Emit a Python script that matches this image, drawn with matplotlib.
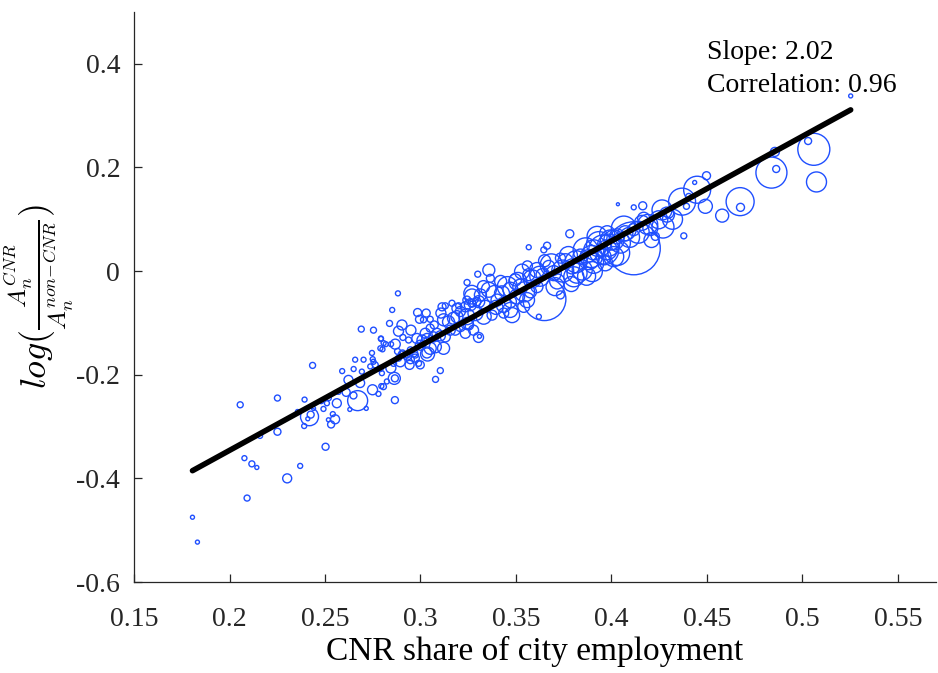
import numpy as np
import matplotlib.pyplot as plt

# CNR share of city employment (x), log productivity ratio (y), city size (marker diameter proxy)
cnr_share = [
    0.1806, 0.1832, 0.2056, 0.2078, 0.2117, 0.2143, 0.2092, 0.2160, 0.2251, 0.2251,
    0.2302, 0.2370, 0.2435, 0.2393, 0.2356, 0.2419, 0.2425, 0.2410, 0.2391, 0.2503,
    0.2492, 0.2480, 0.2510, 0.2520, 0.2553, 0.2532, 0.2518, 0.2541, 0.2562, 0.2671,
    0.2611, 0.2649, 0.2749, 0.2866, 0.2866, 0.2780, 0.2795, 0.2630, 0.2716, 0.2590,
    0.2650, 0.2693, 0.2702, 0.2658, 0.2623, 0.2684, 0.2571, 0.2737, 0.2754, 0.2746,
    0.2798, 0.2824, 0.2790, 0.2807, 0.2793, 0.2859, 0.2885, 0.2906, 0.2947, 0.2973,
    0.2990, 0.2845, 0.2894, 0.2943, 0.3034, 0.3013, 0.3034, 0.2440,
    # middle-left cluster
    0.2882, 0.2852, 0.2838, 0.2690, 0.2754, 0.2793, 0.2818, 0.2846, 0.2801, 0.2750,
    0.2763, 0.2789, 0.2885, 0.2903, 0.2950, 0.2908, 0.2938, 0.2868, 0.2880, 0.2900,
    0.2930, 0.2863, 0.2806, 0.2985, 0.3030, 0.2995, 0.3016, 0.3051, 0.3072, 0.3051,
    0.3113, 0.3130, 0.3107, 0.3165, 0.3200, 0.3244, 0.3300, 0.3269, 0.3243, 0.3269,
    0.3296, 0.3121, 0.3147, 0.3173, 0.3086, 0.3069, 0.3104, 0.3130, 0.3156, 0.3034,
    0.3008, 0.2981, 0.3025, 0.2999, 0.3078, 0.3121, 0.3051, 0.2964, 0.2999, 0.2947,
    0.2932, 0.2973, 0.3037, 0.3104, 0.3079, 0.3182, 0.3209, 0.3235, 0.3252, 0.3278,
    0.3304, 0.3243, 0.3191, 0.3209, 0.3235, 0.3191,
    # middle cluster
    0.4034, 0.3782, 0.3567, 0.3646, 0.3663, 0.3358, 0.3366, 0.3309, 0.3620, 0.3649,
    0.3733, 0.3358, 0.3314, 0.3270, 0.3261, 0.3305, 0.3340, 0.3288, 0.3331, 0.3375,
    0.3401, 0.3427, 0.3471, 0.3436, 0.3471, 0.3506, 0.3523, 0.3497, 0.3532, 0.3567,
    0.3610, 0.3637, 0.3672, 0.3698, 0.3716, 0.3610, 0.3576, 0.3558, 0.3541, 0.3480,
    0.3436, 0.3759, 0.3733, 0.3794, 0.3803, 0.3838, 0.3882, 0.3847, 0.3908, 0.3960,
    0.3925, 0.3978, 0.4013, 0.4030, 0.3900, 0.3244, 0.3820, 0.3907,
    0.3390, 0.3455, 0.3510, 0.3545, 0.3585, 0.3625, 0.3685, 0.3705, 0.3745, 0.3775,
    0.3815, 0.3865, 0.3895, 0.3935, 0.3985, 0.4065, 0.4095, 0.4140, 0.4190, 0.4210,
    0.4270, 0.4320, 0.3470, 0.3395, 0.3330, 0.3420, 0.3560, 0.3650, 0.3790, 0.3870,
    # upper-right cluster
    0.4117, 0.4117, 0.4164, 0.4265, 0.4300, 0.4370, 0.4449, 0.4498, 0.4436, 0.4405,
    0.4393, 0.4492, 0.4580, 0.4674, 0.4676, 0.4379, 0.4230, 0.4204, 0.4160, 0.4169,
    0.4248, 0.4291, 0.4117, 0.4073, 0.4029, 0.3994, 0.3977, 0.4012, 0.3959, 0.3968,
    0.4047,
    0.5253, 0.4856, 0.4838, 0.4863, 0.5060, 0.5030, 0.5074,
]
log_ratio = [
    -0.475, -0.523, -0.258, -0.361, -0.372, -0.379, -0.438, -0.318, -0.245, -0.310,
    -0.400, -0.376, -0.182, -0.248, -0.271, -0.281, -0.277, -0.285, -0.299, -0.339,
    -0.266, -0.251, -0.255, -0.245, -0.286, -0.296, -0.287, -0.276, -0.255, -0.250,
    -0.234, -0.240, -0.229, -0.249, -0.207, -0.237, -0.222, -0.267, -0.265, -0.193,
    -0.189, -0.194, -0.171, -0.171, -0.210, -0.216, -0.233, -0.184, -0.175, -0.158,
    -0.197, -0.213, -0.149, -0.139, -0.130, -0.178, -0.168, -0.158, -0.152, -0.162,
    -0.178, -0.187, -0.175, -0.181, -0.158, -0.142, -0.133, -0.265,
    -0.043, -0.075, -0.101, -0.112, -0.114, -0.131, -0.141, -0.141, -0.151, -0.170,
    -0.181, -0.188, -0.116, -0.104, -0.114, -0.128, -0.133, -0.141, -0.155, -0.160,
    -0.162, -0.207, -0.223, -0.080, -0.081, -0.093, -0.094, -0.093, -0.104, -0.110,
    -0.069, -0.067, -0.081, -0.062, -0.067, -0.022, -0.006, -0.043, -0.056, -0.062,
    -0.059, -0.094, -0.098, -0.091, -0.120, -0.127, -0.125, -0.127, -0.114, -0.130,
    -0.133, -0.130, -0.120, -0.143, -0.146, -0.149, -0.149, -0.158, -0.181, -0.171,
    -0.164, -0.168, -0.160, -0.192, -0.209, -0.114, -0.107, -0.120, -0.104, -0.114,
    -0.128, -0.088, -0.088, -0.078, -0.069, -0.072,
    0.129, 0.072, 0.046, 0.041, 0.049, 0.002, -0.014, -0.126, -0.088, -0.054,
    -0.046, -0.036, -0.046, -0.049, -0.065, -0.059, -0.068, -0.081, -0.088, -0.085,
    -0.056, -0.043, -0.036, -0.065, -0.059, -0.049, -0.030, -0.017, -0.001, -0.007,
    0.002, -0.007, 0.009, -0.004, -0.020, -0.030, -0.040, -0.056, -0.068, -0.085,
    -0.081, 0.019, 0.025, 0.009, -0.011, 0.028, 0.022, 0.002, 0.041, 0.041,
    0.067, 0.073, 0.060, 0.035, -0.001, -0.101, -0.004, 0.015,
    -0.045, -0.030, -0.020, -0.040, -0.015, -0.010, 0.012, -0.030, 0.000, 0.030,
    0.018, 0.040, 0.028, 0.052, 0.050, 0.082, 0.065, 0.075, 0.090, 0.060,
    0.085, 0.100, -0.075, -0.070, -0.030, -0.020, 0.010, 0.020, -0.025, -0.010,
    0.044, 0.123, 0.126, 0.118, 0.112, 0.134, 0.157, 0.184, 0.171, 0.144,
    0.125, 0.125, 0.107, 0.134, 0.123, 0.068, 0.067, 0.083, 0.093, 0.102,
    0.099, 0.109, 0.080, 0.073, 0.067, 0.060, 0.041, 0.028, 0.028, 0.015,
    0.054,
    0.338, 0.230, 0.190, 0.197, 0.235, 0.251, 0.172,
]
city_size = [
    4, 4, 6, 5, 6, 4, 6, 5, 6, 7,
    9, 5, 6, 5, 4, 18, 7, 4, 5, 7,
    5, 5, 5, 5, 9, 7, 4, 5, 9, 20,
    8, 7, 10, 7, 7, 5, 5, 4, 4, 5,
    5, 5, 5, 5, 9, 9, 5, 5, 5, 5,
    5, 5, 5, 5, 5, 6, 6, 6, 6, 6,
    6, 10, 10, 9, 10, 6, 6, 4,
    5, 5, 6, 6, 6, 5, 5, 5, 5, 5,
    6, 6, 10, 10, 10, 6, 6, 10, 6, 6,
    6, 12, 6, 8, 8, 8, 6, 6, 8, 8,
    8, 6, 10, 6, 6, 6, 6, 16, 8, 8,
    8, 12, 12, 12, 10, 10, 10, 10, 10, 10,
    10, 10, 10, 10, 12, 12, 12, 8, 8, 8,
    8, 8, 14, 6, 6, 10, 10, 10, 10, 10,
    10, 16, 12, 10, 10, 10,
    3, 8, 5, 6, 7, 12, 8, 4, 5, 43,
    8, 15, 12, 15, 12, 12, 12, 15, 15, 10,
    12, 15, 15, 15, 12, 15, 15, 12, 15, 12,
    15, 12, 12, 15, 15, 12, 12, 15, 12, 15,
    10, 15, 10, 15, 20, 15, 20, 20, 20, 30,
    20, 15, 20, 25, 20, 12, 20, 20,
    18, 20, 18, 20, 18, 20, 22, 18, 22, 18,
    22, 25, 22, 25, 22, 25, 20, 22, 20, 15,
    22, 20, 15, 14, 12, 12, 10, 12, 15, 18,
    53, 5, 8, 20, 10, 27, 27, 8, 4, 6,
    6, 14, 13, 28, 8, 6, 8, 15, 15, 12,
    18, 15, 12, 15, 15, 20, 20, 20, 15, 15,
    20,
    4, 9, 31, 7, 32, 7, 20,
]

# fitted line
slope = 2.02
intercept = -0.750
correlation = 0.96

x_ticks = [0.15, 0.2, 0.25, 0.3, 0.35, 0.4, 0.45, 0.5, 0.55]
x_labels = ['0.15', '0.2', '0.25', '0.3', '0.35', '0.4', '0.45', '0.5', '0.55']
y_ticks = [-0.6, -0.4, -0.2, 0, 0.2, 0.4]
y_labels = ['-0.6', '-0.4', '-0.2', '0', '0.2', '0.4']

plt.rcParams['font.family'] = 'Liberation Serif'
plt.rcParams['mathtext.fontset'] = 'cm'

fig = plt.figure(figsize=(9.38, 6.73), dpi=100)
ax = fig.add_axes([0.1429, 0.1352, 0.855, 0.847])

x = np.array(cnr_share)
y = np.array(log_ratio)
d = np.array(city_size, dtype=float)

ax.scatter(x, y, s=(d * 0.72) ** 2, facecolors='none', edgecolors='#1f4fff', linewidths=1.0)

xs = np.array([x.min(), x.max()])
ax.plot(xs, intercept + slope * xs, color='black', linewidth=4, solid_capstyle='round')

ax.text(0.4502, 0.4091, 'Slope: %.2f' % slope, fontsize=20, va='baseline', ha='left')
ax.text(0.4502, 0.3465, 'Correlation: %.2f' % correlation, fontsize=20, va='baseline', ha='left')

ax.set_xlim(0.15, 0.57)
ax.set_ylim(-0.6, 0.5)
ax.set_xticks(x_ticks, x_labels)
ax.set_yticks(y_ticks, y_labels)
ax.tick_params(direction='in', length=6, width=0.9, labelsize=20, colors='#262626', pad=10)
ax.tick_params(axis='x', pad=18)

for side in ['top', 'right']:
    ax.spines[side].set_visible(False)
for side in ['left', 'bottom']:
    ax.spines[side].set_color('#262626')
    ax.spines[side].set_linewidth(0.9)

ax.set_xlabel('CNR share of city employment', fontsize=24, labelpad=3)
ax.set_ylabel(r'$log(\frac{A_n^{CNR}}{A_n^{non\!-\!CNR}})$', fontsize=26, labelpad=0)

fig.savefig('out.png', dpi=100)
